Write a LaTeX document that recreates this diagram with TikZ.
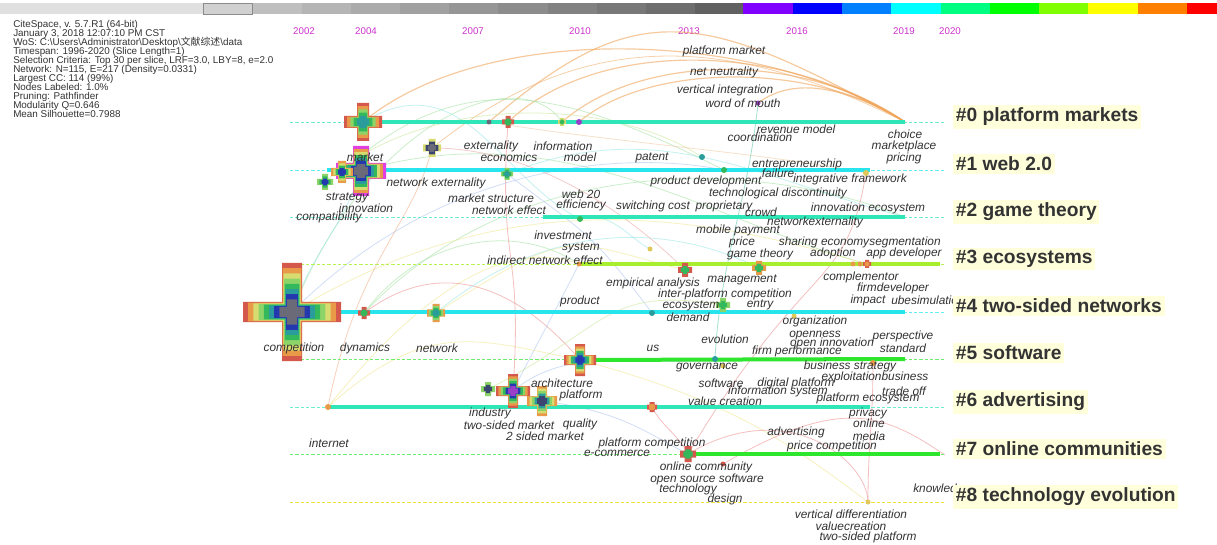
\documentclass[tikz,border=0pt]{standalone}
\usepackage{fontspec}
\setmainfont{Liberation Sans}
\newfontfamily\cjkfont{Noto Sans CJK SC}
\usepackage{tikz}
\usetikzlibrary{positioning}

\definecolor{txtgrey}{HTML}{333333}
\definecolor{yeargrey}{HTML}{CC33CC}
\definecolor{labelbg}{HTML}{FFFFDC}
\definecolor{cRed}{HTML}{D4584C}
\definecolor{cOrange}{HTML}{E89A48}
\definecolor{cYellow}{HTML}{D8DC70}
\definecolor{cLgreen}{HTML}{8CD468}
\definecolor{cGreen}{HTML}{34B85C}
\definecolor{cTeal}{HTML}{2A9C9C}
\definecolor{cBlue}{HTML}{2438B0}
\definecolor{cGrey}{HTML}{6A6A78}
\definecolor{cMag}{HTML}{E040E0}
\definecolor{cNavy}{HTML}{3A4670}
\definecolor{cViolet}{HTML}{9A40C8}
\definecolor{rowA}{HTML}{2EE6B8}
\definecolor{rowB}{HTML}{28E4EC}
\definecolor{rowC}{HTML}{A6EE2E}
\definecolor{rowD}{HTML}{2EE62E}
\definecolor{rowE}{HTML}{F0E040}

\newcommand{\infofont}{\fontsize{7.4}{6.75}\selectfont\setlength{\lineskiplimit}{-20pt}}

\tikzset{
  plusshape/.style 2 args={insert path={(-#1,-#2) -- (-#2,-#2) -- (-#2,-#1) -- (#2,-#1) -- (#2,-#2) -- (#1,-#2) -- (#1,#2) -- (#2,#2) -- (#2,#1) -- (-#2,#1) -- (-#2,#2) -- (-#1,#2) -- cycle}},
  timeline/.style={line width=3pt},
  dashline/.style={line width=0.6pt, dash pattern=on 2.5pt off 1.5pt},
  arcline/.style={line width=0.6pt, opacity=0.55},
  kw/.style={font=\fontsize{8.9}{10}\selectfont\itshape, text=txtgrey, inner sep=0pt},
  clabel/.style={anchor=west, fill=labelbg, font=\fontsize{14.4}{16}\selectfont\bfseries, text=txtgrey, inner sep=2pt},
  yearlbl/.style={font=\fontsize{7.3}{8}\selectfont, text=yeargrey, inner sep=0pt},
}

% cross shaped node: centre, arm, half width, colours outer->inner
\newcommand{\burst}[4]{%
  \foreach \col [count=\k] in {#4}{\xdef\nlayers{\k}}%
  \foreach \col [count=\i from 0] in {#4}{%
    \pgfmathsetmacro{\armlen}{#2*(1-0.85*\i/\nlayers)}%
    \pgfmathsetmacro{\armwid}{#3*(1-0.55*\i/\nlayers)}%
    \fill[fill=\col, shift={(#1)}, plusshape={\armlen}{\armwid}];
  }}

\begin{document}
\begin{tikzpicture}[x=0.75pt,y=0.75pt,yscale=-1,xscale=1]
    \useasboundingbox (0,0) rectangle (1217,545);
    \fill[white] (0,0) rectangle (1217,545);

    %Colour bar
    \fill[black!12] (0,3) rectangle (203,14);
    \foreach \xa/\xb/\g in {203/252/18, 252/302/25, 302/351/29, 351/400/33, 400/449/37, 449/498/41, 498/548/45, 548/597/49, 597/646/53, 646/695/57, 695/743/62}
      \fill[black!\g] (\xa,3) rectangle (\xb,14);
    \draw[black!45, line width=0.5pt] (203,3) rectangle (252,14);
    \foreach \xa/\xb/\c in {743/793/8000FF, 793/842/0000FF, 842/891/0080FF, 891/941/00FFFF, 941/990/00FF80, 990/1039/00FF00, 1039/1088/80FF00, 1088/1138/FFFF00, 1138/1187/FF8000, 1187/1217/FF0000}{
      \definecolor{barcol}{HTML}{\c}
      \fill[barcol] (\xa,3) rectangle (\xb,14);
    }

    %Years
    \node[yearlbl] (y2002) at (304,31) {2002};
    \node[yearlbl] (y2004) at (366,31) {2004};
    \node[yearlbl] (y2007) at (473,31) {2007};
    \node[yearlbl] (y2010) at (580,31) {2010};
    \node[yearlbl] (y2013) at (689,31) {2013};
    \node[yearlbl] (y2016) at (797,31) {2016};
    \node[yearlbl] (y2019) at (904,31) {2019};
    \node[yearlbl] (y2020) at (950,31) {2020};

    %Node points
    \coordinate (n0mkt) at (363,122);  \coordinate (n0grey) at (489,122);
    \coordinate (n0red) at (508,122);  \coordinate (n0grn) at (562,122);
    \coordinate (n0vio) at (579,122);  \coordinate (n0end) at (905,122);
    \coordinate (wmouth) at (758,103);
    \coordinate (n1big) at (361,171);  \coordinate (n1small) at (342,172);
    \coordinate (n1strat) at (325,182); \coordinate (n1dark) at (432,148);
    \coordinate (n1grn) at (507,174);  \coordinate (n1teal) at (702,157);
    \coordinate (n1e) at (724,170);    \coordinate (n1end) at (866,173);
    \coordinate (n2grn) at (580,219);  \coordinate (n2end) at (905,217);
    \coordinate (n3a) at (579,264);    \coordinate (n3y) at (650,249);
    \coordinate (n3red) at (685,270);  \coordinate (n3grn) at (759,268);
    \coordinate (n3o1) at (853,264);   \coordinate (n3o2) at (860,264);
    \coordinate (n3end) at (867,264);
    \coordinate (n4comp) at (292,312); \coordinate (n4dyn) at (364,313);
    \coordinate (n4net) at (436,313);  \coordinate (n4teal) at (652,313);
    \coordinate (n4grn) at (723,305);  \coordinate (n4y) at (794,316);
    \coordinate (n5big) at (580,360);  \coordinate (n5teal) at (715,359);
    \coordinate (n5y) at (723,366);    \coordinate (n5o) at (873,363);
    \coordinate (n6a) at (328,407);    \coordinate (n6dark) at (488,389);
    \coordinate (n6big) at (513,391);  \coordinate (n6c) at (542,401);
    \coordinate (n6red) at (652,407);
    \coordinate (n7big) at (688,454);  \coordinate (n7red) at (723,464);
    \coordinate (n8y) at (868,502);

    %Curve Lines (co-citation arcs)
    \draw[arcline, draw={rgb,255:red,240;green,160;blue,80}, line width=0.9pt] (n0mkt) .. controls +(120,-100) and +(-150,-95) .. (n0end);
    \draw[arcline, draw={rgb,255:red,240;green,160;blue,80}, line width=0.9pt] (n0grey) .. controls +(150,-130) and +(-200,-110) .. (n0end);
    \draw[arcline, draw={rgb,255:red,240;green,160;blue,80}, line width=0.9pt] (n0red) .. controls +(90,-85) and +(-120,-80) .. (n0end);
    \draw[arcline, draw={rgb,255:red,240;green,160;blue,80}, line width=0.9pt] (n0grn) .. controls +(80,-70) and +(-100,-70) .. (n0end);
    \draw[arcline, draw={rgb,255:red,240;green,160;blue,80}, line width=0.9pt] (n0vio) .. controls +(70,-60) and +(-90,-60) .. (n0end);
    \draw[arcline, draw={rgb,255:red,240;green,160;blue,80}, line width=0.9pt] (wmouth) .. controls +(40,-30) and +(-50,-30) .. (n0end);
    \draw[arcline, draw={rgb,255:red,240;green,170;blue,100}] (n1dark) .. controls +(150,-120) and +(-180,-90) .. (n0end);
    \draw[arcline, draw={rgb,255:red,160;green,225;blue,160}] (n4dyn) .. controls +(150,-160) and +(-150,-60) .. (n2end);
    \draw[arcline, draw={rgb,255:red,160;green,225;blue,160}] (n4dyn) .. controls +(60,-80) and +(-60,-40) .. (n3a);
    \draw[arcline, draw={rgb,255:red,160;green,225;blue,160}] (n4comp) .. controls +(80,-200) and +(-40,-60) .. (n0grn);
    \draw[arcline, draw={rgb,255:red,160;green,225;blue,160}] (n1big) .. controls +(200,-60) and +(-150,-40) .. (n3end);
    \draw[arcline, draw={rgb,255:red,160;green,225;blue,160}] (n1small) .. controls +(120,-110) and +(-160,-80) .. (n1e);
    \draw[arcline, draw={rgb,255:red,240;green,230;blue,140}] (n6a) .. controls +(80,-100) and +(-80,-30) .. (n3a);
    \draw[arcline, draw={rgb,255:red,240;green,230;blue,140}] (n6a) .. controls +(100,-90) and +(-100,-20) .. (n5big);
    \draw[arcline, draw={rgb,255:red,240;green,230;blue,140}] (n5big) .. controls +(150,40) and +(-80,-60) .. (n8y);
    \draw[arcline, draw={rgb,255:red,240;green,230;blue,140}] (n4net) .. controls +(140,-90) and +(-120,-30) .. (n3red);
    \draw[arcline, draw={rgb,255:red,240;green,230;blue,140}] (n4comp) .. controls +(200,-120) and +(-200,-60) .. (n3end);
    \draw[arcline, draw={rgb,255:red,235;green,140;blue,140}] (n4dyn) .. controls +(80,-60) and +(-60,-70) .. (n5big);
    \draw[arcline, draw={rgb,255:red,235;green,140;blue,140}] (n6big) .. controls +(10,-150) and +(-10,150) .. (n0red);
    \draw[arcline, draw={rgb,255:red,235;green,140;blue,140}] (n7big) .. controls +(120,-200) and +(-20,120) .. (n1end);
    \draw[arcline, draw={rgb,255:red,235;green,140;blue,140}] (n6red) .. controls +(10,20) and +(-10,-20) .. (n7big);
    \draw[arcline, draw={rgb,255:red,235;green,140;blue,140}] (n7big) .. controls +(100,-60) and +(0,-40) .. (n8y);
    \draw[arcline, draw={rgb,255:red,235;green,140;blue,140}] (n5o) .. controls +(0,60) and +(0,-60) .. (n8y);
    \draw[arcline, draw={rgb,255:red,235;green,140;blue,140}] (n7red) .. controls +(120,-70) and +(-60,-40) .. (945,455);
    \draw[arcline, draw={rgb,255:red,170;green,195;blue,240}] (n4comp) .. controls +(150,-150) and +(-100,-20) .. (n1e);
    \draw[arcline, draw={rgb,255:red,170;green,195;blue,240}] (n3a) .. controls +(-20,40) and +(20,-40) .. (n6big);
    \draw[arcline, draw={rgb,255:red,170;green,195;blue,240}] (n6big) .. controls +(60,-50) and +(-60,10) .. (n5teal);
    \draw[arcline, draw={rgb,255:red,170;green,195;blue,240}] (n6c) .. controls +(80,10) and +(-40,-20) .. (n7big);
    \draw[arcline, draw={rgb,255:red,170;green,195;blue,240}] (n1grn) .. controls +(80,60) and +(-60,-80) .. (n4teal);
    \draw[arcline, draw={rgb,255:red,150;green,230;blue,230}] (n4comp) .. controls +(20,-60) and +(-20,60) .. (n1big);
    \draw[arcline, draw={rgb,255:red,150;green,230;blue,230}] (n0mkt) .. controls +(100,-60) and +(-80,-40) .. (n2grn);
    \draw[arcline, draw={rgb,255:red,150;green,230;blue,230}] (n1grn) .. controls +(150,-60) and +(-150,-40) .. (n2end);
    \draw[arcline, draw={rgb,255:red,150;green,230;blue,230}] (n2grn) .. controls +(30,-10) and +(-20,-10) .. (n3y);
    \draw[arcline, draw={rgb,255:red,150;green,230;blue,230}] (n4net) .. controls +(120,-100) and +(-80,-40) .. (n3grn);
    \draw[arcline, draw={rgb,255:red,90;green,200;blue,170}] (wmouth) .. controls +(-10,100) and +(5,-100) .. (n5teal);
    \draw[arcline, draw={rgb,255:red,240;green,170;blue,130}] (n6a) .. controls +(30,-150) and +(-20,80) .. (n1dark);
    \draw[arcline, draw={rgb,255:red,200;green,230;blue,150}] (n1strat) .. controls +(100,-90) and +(-90,-60) .. (n1teal);
    \draw[arcline, draw={rgb,255:red,200;green,230;blue,150}] (n6dark) .. controls +(120,-60) and +(-120,-20) .. (n4grn);
    \draw[arcline, draw={rgb,255:red,240;green,200;blue,160}] (n0grey) .. controls +(120,20) and +(-100,-20) .. (n1end);
    \draw[arcline, draw={rgb,255:red,235;green,160;blue,160}] (n1dark) .. controls +(100,0) and +(-60,-60) .. (n3red);

    %Timelines, dashed
    \draw[dashline, draw=rowA!70] (290,122) -- (945,122);
    \draw[dashline, draw=rowB!70] (290,170) -- (945,170);
    \draw[dashline, draw=rowA!70] (290,217) -- (945,217);
    \draw[dashline, draw=rowC!80] (290,264) -- (945,264);
    \draw[dashline, draw=rowB!70] (290,312) -- (945,312);
    \draw[dashline, draw=rowD!70] (290,359) -- (945,359);
    \draw[dashline, draw=rowA!70] (290,407) -- (945,407);
    \draw[dashline, draw=rowD!70] (290,454) -- (945,454);
    \draw[dashline, draw=rowE] (290,502) -- (945,502);

    %Timelines, solid
    \draw[timeline, draw=rowA] (n0mkt) -- (n0end);
    \draw[timeline, draw=rowB] (327,170) -- (870,170);
    \draw[timeline, draw=rowA] (543,217) -- (n2end);
    \draw[timeline, draw=rowC] (n3a) -- (940,264);
    \draw[timeline, draw=rowB] (n4comp) -- (905,312);
    \draw[timeline, draw=rowD] (n5big) -- (905,359);
    \draw[timeline, draw=rowA] (n6a) -- (870,407);
    \draw[timeline, draw=rowD] (n7big) -- (940,454);

    %Small dots
    \fill[cGrey] (n0grey) circle (2.5);
    \fill[cViolet] (n0vio) circle (3);
    \fill[cViolet] (wmouth) circle (2.5);
    \fill[cTeal] (n1teal) circle (3);
    \fill[cGreen] (n1e) circle (3);
    \fill[cYellow!80!orange] (n1end) circle (3);
    \fill[cGreen] (n2grn) circle (3);
    \fill[cOrange] (n3a) circle (2.5);
    \fill[cYellow!80!orange] (n3y) circle (2.5);
    \fill[cOrange] (n3o1) circle (2.5);
    \fill[cOrange] (n3o2) circle (2.5);
    \fill[cTeal] (n4teal) circle (3);
    \fill[cYellow!80!orange] (n4y) circle (2.5);
    \fill[cTeal] (n5teal) circle (3);
    \fill[cYellow!80!orange] (n5y) circle (2.5);
    \fill[cOrange] (n5o) circle (3);
    \fill[cOrange] (n6a) circle (3);
    \fill[cRed] (n7red) circle (2.5);
    \fill[cYellow!80!orange] (n8y) circle (2.5);

    %Cross nodes
    \burst{n0mkt}{19}{6}{cRed,cOrange,cLgreen,cGreen,cTeal}
    \burst{n1big}{25}{8}{cMag,cOrange,cYellow,cGreen,cTeal,cBlue,cGrey}
    \burst{n1small}{11}{4}{cOrange,cYellow,cGreen,cBlue}
    \burst{n1strat}{8}{3}{cLgreen,cGreen,cBlue}
    \burst{n1dark}{9}{3.5}{cYellow,cNavy,cGrey}
    \burst{n1grn}{6}{2.5}{cLgreen,cGreen,cTeal}
    \burst{n0red}{6}{2.5}{cRed,cGreen}
    \burst{n0grn}{4}{2}{cYellow,cGreen}
    \burst{n3red}{7}{3}{cRed,cGreen}
    \burst{n3grn}{7}{3}{cOrange,cGreen}
    \burst{n3end}{4}{2}{cRed,cOrange}
    \burst{n4comp}{49}{10}{cRed,cOrange,cYellow,cLgreen,cGreen,cTeal,cBlue,cGrey}
    \burst{n4dyn}{6}{2.5}{cRed,cGreen}
    \burst{n4net}{9}{3.5}{cOrange,cLgreen,cGreen,cTeal}
    \burst{n4grn}{7}{3}{cLgreen,cGreen}
    \burst{n5big}{16}{5}{cRed,cOrange,cYellow,cGreen,cTeal,cBlue}
    \burst{n6dark}{7}{3}{cLgreen,cNavy}
    \burst{n6big}{17}{5}{cRed,cOrange,cLgreen,cGreen,cBlue,cViolet}
    \burst{n6c}{15}{5}{cOrange,cYellow,cLgreen,cTeal,cNavy}
    \burst{n6red}{5}{2.5}{cRed,cOrange}
    \burst{n7big}{8}{3.5}{cRed,cGreen}

    % Text Node (row 0)
    \node[kw] (kPlatMarket) at (724,51) {platform market};
    \node[kw] (kNetNeut) at (724,72) {net neutrality};
    \node[kw] (kVertInt) at (725,90) {vertical integration};
    \node[kw] (kWordMouth) at (743,103) {word of mouth};
    \node[kw] (kRevenue) at (796,129) {revenue model};
    \node[kw] (kCoord) at (760,137) {coordination};
    \node[kw] (kChoice) at (905,134) {choice};
    \node[kw] (kMarketplace) at (904,146) {marketplace};
    \node[kw] (kPricing) at (904,158) {pricing};
    \node[kw] (kMarket) at (365,157) {market};
    % Text Node (row 1)
    \node[kw] (kExternality) at (491,146) {externality};
    \node[kw] (kEconomics) at (509,157) {economics};
    \node[kw] (kInformation) at (563,146) {information};
    \node[kw] (kModel) at (580,157) {model};
    \node[kw] (kPatent) at (652,158) {patent};
    \node[kw] (kEntrepr) at (797,164) {entrepreneurship};
    \node[kw] (kFailure) at (778,173) {failure};
    \node[kw] (kIntegr) at (850,179) {integrative framework};
    \node[kw] (kProdDev) at (706,181) {product development};
    \node[kw] (kTechDisc) at (778,193) {technological discontinuity};
    \node[kw] (kNetExt) at (436,183) {network externality};
    \node[kw] (kMktStruct) at (491,198) {market structure};
    \node[kw] (kStrategy) at (347,198) {strategy};
    \node[kw] (kInnovation) at (366,208) {innovation};
    \node[kw] (kCompat) at (329,217) {compatibility};
    \node[kw] (kNetEffect) at (509,210) {network effect};
    % Text Node (row 2)
    \node[kw] (kWeb) at (581,194) {web 20};
    \node[kw] (kEfficiency) at (581,205) {efficiency};
    \node[kw] (kSwitching) at (653,206) {switching cost};
    \node[kw] (kPropr) at (724,206) {proprietary};
    \node[kw] (kCrowd) at (761,212) {crowd};
    \node[kw] (kInnoEco) at (868,208) {innovation ecosystem};
    \node[kw] (kNetExtB) at (815,222) {networkexternality};
    \node[kw] (kMobile) at (738,230) {mobile payment};
    \node[kw] (kPrice) at (742,242) {price};
    \node[kw] (kSharing) at (824,242) {sharing economy};
    \node[kw] (kSegment) at (905,242) {segmentation};
    \node[kw] (kGameTh) at (760,254) {game theory};
    \node[kw] (kAdoption) at (833,253) {adoption};
    \node[kw] (kAppDev) at (904,253) {app developer};
    \node[kw] (kInvest) at (563,235) {investment};
    \node[kw] (kSystem) at (581,248) {system};
    \node[kw] (kIndirect) at (545,260) {indirect network effect};
    % Text Node (row 3)
    \node[kw] (kEmpirical) at (653,283) {empirical analysis};
    \node[kw] (kManagement) at (742,280) {management};
    \node[kw] (kComplementor) at (861,277) {complementor};
    \node[kw] (kFirmdev) at (893,288) {firmdeveloper};
    \node[kw] (kInterPlat) at (725,294) {inter-platform competition};
    \node[kw] (kEntry) at (760,305) {entry};
    \node[kw] (kImpact) at (868,300) {impact};
    \node[kw, anchor=west] (kUber) at (891,300) {ubesimulation};
    \node[kw] (kEcosystem) at (691,306) {ecosystem};
    \node[kw] (kDemand) at (688,317) {demand};
    \node[kw] (kProduct) at (580,301) {product};
    % Text Node (row 4)
    \node[kw] (kCompetition) at (294,348) {competition};
    \node[kw] (kDynamics) at (365,348) {dynamics};
    \node[kw] (kNetwork) at (437,348) {network};
    \node[kw] (kOrganization) at (815,321) {organization};
    \node[kw] (kOpenness) at (815,336) {openness};
    \node[kw] (kOpenInno) at (832,343) {open innovation};
    \node[kw] (kPerspective) at (903,336) {perspective};
    \node[kw] (kStandard) at (903,348) {standard};
    \node[kw] (kEvolution) at (725,339) {evolution};
    \node[kw] (kUs) at (653,348) {us};
    \node[kw] (kFirmPerf) at (797,351) {firm performance};
    % Text Node (row 5)
    \node[kw] (kGovernance) at (707,368) {governance};
    \node[kw] (kBusStrat) at (850,366) {business strategy};
    \node[kw] (kExploit) at (875,377) {exploitationbusiness};
    \node[kw] (kSoftware) at (721,383) {software};
    \node[kw] (kDigital) at (796,383) {digital platform};
    \node[kw] (kInfoSys) at (778,391) {information system};
    \node[kw] (kTradeOff) at (904,391) {trade off};
    \node[kw] (kPlatEco) at (868,398) {platform ecosystem};
    \node[kw] (kValueCr) at (725,401) {value creation};
    \node[kw] (kArchitecture) at (562,383) {architecture};
    \node[kw] (kPlatform) at (581,395) {platform};
    % Text Node (row 6)
    \node[kw] (kIndustry) at (490,413) {industry};
    \node[kw] (kTwoSided) at (509,425) {two-sided market};
    \node[kw] (kQuality) at (580,424) {quality};
    \node[kw] (kTwoSidedB) at (545,436) {2 sided market};
    \node[kw] (kPrivacy) at (868,413) {privacy};
    \node[kw] (kOnline) at (869,423) {online};
    \node[kw] (kMedia) at (869,436) {media};
    \node[kw] (kAdvert) at (796,432) {advertising};
    \node[kw] (kPriceComp) at (832,446) {price competition};
    \node[kw] (kInternet) at (329,443) {internet};
    \node[kw] (kPlatComp) at (652,443) {platform competition};
    \node[kw] (kEcommerce) at (617,453) {e-commerce};
    % Text Node (row 7, 8)
    \node[kw] (kOnlineComm) at (706,467) {online community};
    \node[kw] (kOpenSource) at (707,479) {open source software};
    \node[kw] (kTechnology) at (688,489) {technology};
    \node[kw] (kDesign) at (725,499) {design};
    \node[kw, anchor=west] (kKnowledge) at (913,489) {knowledge};
    \node[kw] (kVertDiff) at (851,514) {vertical differentiation};
    \node[kw] (kValuecreation) at (851,526) {valuecreation};
    \node[kw] (kTwoSidedPlat) at (868,537) {two-sided platform};

    % Cluster labels
    \node[clabel] (c0) at (953,117) {\#0 platform markets};
    \node[clabel] (c1) at (953,164) {\#1 web 2.0};
    \node[clabel] (c2) at (953,212) {\#2 game theory};
    \node[clabel] (c3) at (953,259) {\#3 ecosystems};
    \node[clabel] (c4) at (953,306) {\#4 two-sided networks};
    \node[clabel] (c5) at (953,353) {\#5 software};
    \node[clabel] (c6) at (953,402) {\#6 advertising};
    \node[clabel] (c7) at (953,449) {\#7 online communities};
    \node[clabel] (c8) at (953,497) {\#8 technology evolution};

    % Text Node (header)
    \node[anchor=north west, inner sep=0pt, align=left, text=txtgrey, font=\infofont] (info) at (13,20) {CiteSpace, v. 5.7.R1 (64-bit)\\January 3, 2018 12:07:10 PM CST\\WoS: C:\textbackslash Users\textbackslash Administrator\textbackslash Desktop\textbackslash{\cjkfont 文献综述}\textbackslash data\\Timespan: 1996-2020 (Slice Length=1)\\Selection Criteria: Top 30 per slice, LRF=3.0, LBY=8, e=2.0\\Network: N=115, E=217 (Density=0.0331)\\Largest CC: 114 (99\%)\\Nodes Labeled: 1.0\%\\Pruning: Pathfinder\\Modularity Q=0.646\\Mean Silhouette=0.7988};

\end{tikzpicture}
\end{document}
